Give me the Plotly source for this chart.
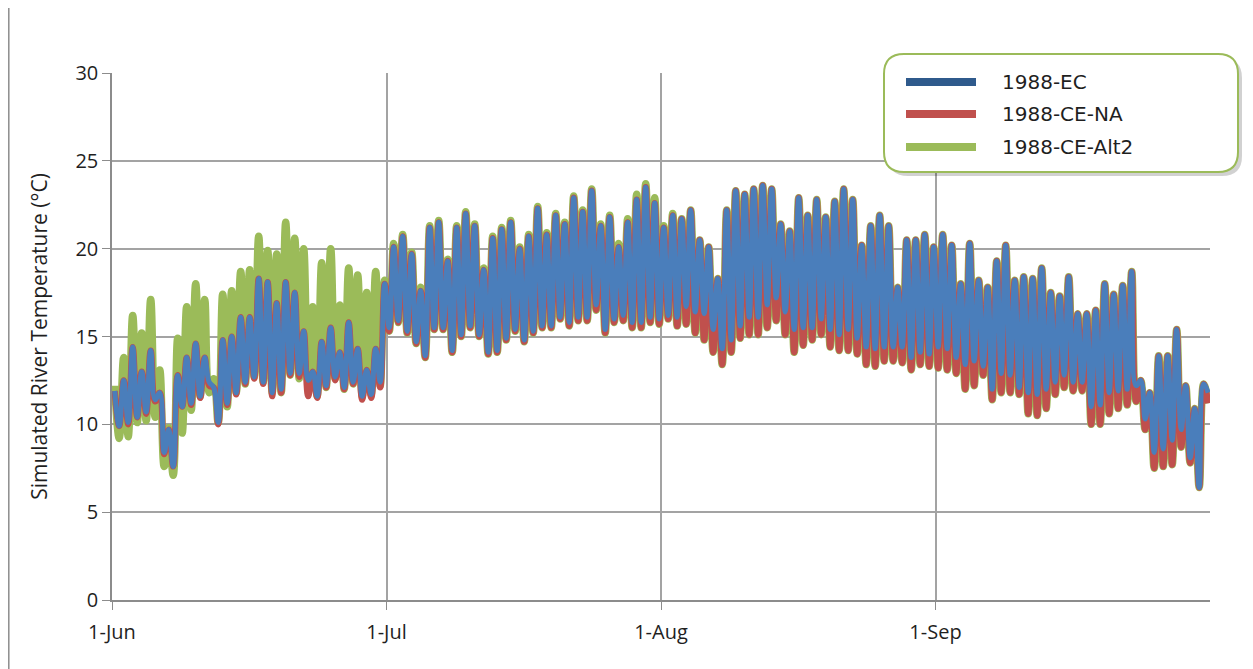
import plotly.graph_objects as go

# daily highs / lows, day 0 = 1-Jun ... day 121 = 30-Sep
ec_max = [
    11.9, 12.5, 14.4, 13.0, 14.2, 11.8, 9.7, 12.8, 13.8, 14.6,
    13.8, 12.1, 14.8, 15.0, 16.1, 16.1, 18.3, 18.1, 16.9, 18.1,
    17.5, 15.3, 13.0, 14.7, 15.5, 14.1, 15.8, 14.3, 13.1, 14.3,
    18.0, 20.1, 20.7, 19.7, 17.6, 21.2, 21.5, 19.3, 21.2, 22.0,
    21.3, 18.8, 20.6, 21.1, 21.5, 20.0, 20.7, 22.3, 20.8, 21.9,
    21.4, 22.9, 22.1, 23.3, 21.3, 21.8, 20.1, 21.5, 22.8, 23.5,
    22.6, 21.2, 21.9, 21.7, 22.2, 20.5, 20.1, 18.3, 22.2, 23.3,
    23.1, 23.4, 23.6, 23.4, 21.4, 21.0, 22.9, 21.9, 22.8, 21.8,
    22.7, 23.4, 22.8, 20.2, 21.3, 21.9, 21.3, 17.8, 20.5, 20.5,
    20.8, 20.1, 20.8, 20.2, 18.0, 20.3, 18.2, 17.8, 19.3, 20.2,
    18.2, 18.4, 18.3, 18.9, 17.5, 17.3, 18.4, 16.3, 16.3, 16.5,
    18.0, 17.4, 17.9, 18.7, 12.5, 11.8, 13.9, 13.9, 15.4, 12.2,
    10.9, 12.3,
]
ec_min = [
    9.9, 10.1, 10.4, 10.7, 11.4, 8.4, 7.6, 11.0, 11.2, 11.6,
    12.4, 10.1, 11.2, 11.8, 12.4, 12.7, 12.4, 11.8, 12.0, 12.9,
    12.9, 12.5, 11.6, 12.2, 12.7, 12.1, 12.4, 11.6, 11.7, 12.4,
    15.5, 15.9, 15.3, 14.7, 13.9, 15.5, 15.5, 14.2, 15.1, 15.6,
    15.1, 14.1, 14.2, 14.9, 15.4, 14.8, 15.3, 15.6, 15.6, 16.1,
    15.8, 16.1, 16.1, 16.8, 15.4, 16.0, 16.2, 15.8, 15.8, 16.1,
    16.0, 16.2, 16.1, 16.7, 16.4, 16.3, 15.4, 14.3, 14.8, 15.6,
    16.1, 16.1, 16.8, 17.2, 16.4, 15.4, 15.5, 15.5, 16.0, 15.4,
    15.1, 15.4, 14.9, 14.4, 14.3, 14.4, 14.4, 14.4, 13.8, 14.1,
    14.0, 14.4, 14.3, 13.8, 13.4, 13.6, 13.3, 12.0, 12.9, 12.8,
    12.1, 11.8, 11.7, 12.0, 12.4, 12.8, 12.4, 12.4, 11.0, 11.1,
    11.8, 11.9, 12.0, 12.2, 10.3, 8.4, 8.6, 9.1, 9.7, 8.1,
    6.4, 11.8,
]
na_max = ec_max  # peaks of CE-NA sit under the EC peaks on the chart
na_min = [
    9.9, 10.0, 10.4, 10.6, 11.3, 8.3, 7.6, 11.0, 11.1, 11.5,
    12.2, 10.0, 11.1, 11.7, 12.3, 12.6, 12.3, 11.6, 11.8, 12.8,
    12.7, 11.6, 11.5, 12.1, 12.5, 12.0, 12.3, 11.4, 11.5, 12.1,
    15.3, 15.8, 15.2, 14.6, 13.8, 15.4, 15.4, 14.1, 15.0, 15.5,
    15.0, 14.0, 14.1, 14.8, 15.3, 14.7, 15.2, 15.5, 15.5, 16.0,
    15.6, 15.9, 15.9, 16.5, 15.2, 15.8, 15.9, 15.5, 15.5, 15.8,
    15.7, 16.0, 15.6, 15.7, 15.2, 14.8, 14.1, 13.4, 14.1, 14.9,
    15.1, 15.1, 15.5, 15.9, 15.1, 14.1, 14.5, 14.8, 15.1, 14.4,
    14.2, 14.2, 14.0, 13.4, 13.3, 13.6, 13.6, 13.5, 13.1, 13.4,
    13.3, 13.2, 13.1, 12.9, 12.0, 12.2, 12.8, 11.4, 11.8, 11.8,
    11.7, 10.6, 10.5, 10.9, 11.7, 12.1, 11.9, 11.9, 10.0, 10.0,
    10.6, 10.9, 11.1, 11.3, 9.7, 7.5, 7.6, 7.7, 8.7, 7.8,
    6.4, 11.2,
]
alt2_max = [
    12.2, 13.8, 16.2, 15.2, 17.1, 13.1, 9.8, 14.9, 16.7, 18.0,
    17.1, 12.6, 17.4, 17.6, 18.7, 18.8, 20.7, 19.9, 19.7, 21.5,
    20.6, 20.0, 16.7, 19.2, 20.0, 16.8, 18.9, 18.5, 17.5, 18.7,
    18.2, 20.3, 20.8, 19.8, 17.8, 21.3, 21.6, 19.4, 21.3, 22.1,
    21.4, 18.9, 20.7, 21.2, 21.6, 20.1, 20.8, 22.4, 20.9, 22.0,
    21.5, 23.0, 22.2, 23.4, 21.4, 21.9, 20.3, 21.7, 23.1, 23.7,
    22.9, 21.3, 22.0, 21.7, 22.2, 20.5, 20.1, 18.3, 22.2, 23.3,
    23.1, 23.4, 23.6, 23.4, 21.4, 21.0, 22.9, 21.9, 22.8, 21.8,
    22.7, 23.4, 22.8, 20.2, 21.3, 21.9, 21.3, 17.8, 20.5, 20.5,
    20.8, 20.1, 20.8, 20.2, 18.0, 20.3, 18.2, 17.8, 19.3, 20.2,
    18.2, 18.4, 18.3, 18.9, 17.5, 17.3, 18.4, 16.3, 16.3, 16.5,
    18.0, 17.4, 17.9, 18.7, 12.5, 11.8, 13.9, 13.9, 15.4, 12.2,
    10.9, 12.3,
]
alt2_min = [
    9.2, 9.3, 10.1, 10.2, 10.4, 7.6, 7.1, 9.5, 10.8, 11.6,
    11.8, 10.1, 11.0, 11.8, 12.3, 12.7, 12.4, 11.8, 11.8, 12.8,
    12.6, 12.3, 11.6, 12.1, 12.6, 12.0, 12.3, 11.6, 11.7, 12.2,
    15.3, 15.8, 15.2, 14.6, 13.8, 15.4, 15.4, 14.1, 15.0, 15.5,
    15.0, 14.0, 14.1, 14.8, 15.3, 14.7, 15.2, 15.5, 15.5, 16.0,
    15.6, 15.9, 15.9, 16.5, 15.2, 15.8, 15.9, 15.5, 15.5, 15.8,
    15.7, 16.0, 15.6, 15.7, 15.2, 14.8, 14.1, 13.4, 14.1, 14.9,
    15.1, 15.1, 15.5, 15.9, 15.1, 14.1, 14.5, 14.8, 15.1, 14.4,
    14.2, 14.2, 14.0, 13.4, 13.3, 13.6, 13.6, 13.5, 13.1, 13.4,
    13.3, 13.2, 13.1, 12.9, 12.0, 12.2, 12.8, 11.4, 11.8, 11.8,
    11.7, 10.6, 10.5, 10.9, 11.7, 12.1, 11.9, 11.9, 10.0, 10.0,
    10.6, 10.9, 11.1, 11.3, 9.7, 7.5, 7.6, 7.7, 8.7, 7.8,
    6.4, 11.2,
]
tick_days = [0, 30.5, 61, 91.5]
tick_labels = ["1-Jun", "1-Jul", "1-Aug", "1-Sep"]

FONT = "Open Sans"
GRID = "#a3a3a3"
OFF = 8  # page body margin, the figure is drawn 8px in from the window edge
W, H = 1253 - OFF, 669 - OFF
L, R, T, B = 112, 1210, 73, 600  # plot area in window px


def px(x, y):
    return (x - L) / (R - L), (B - y) / (B - T)


def diurnal(hi, lo):
    xs, ys = [], []
    for d in range(len(hi)):
        xs += [d + 0.3, d + 0.8]
        ys += [hi[d], lo[d]]
    return xs, ys


series = [
    ("1988-CE-Alt2", alt2_max, alt2_min, "#9bbb59", 7.5),
    ("1988-CE-NA", na_max, na_min, "#c0504d", 6.2),
    ("1988-EC", ec_max, ec_min, "#4a7ebb", 5),
]

fig = go.Figure()
for name, hi, lo, col, w in series:
    xs, ys = diurnal(hi, lo)
    fig.add_trace(go.Scatter(
        x=xs, y=ys, mode="lines", name=name, showlegend=False,
        line=dict(color=col, width=w, shape="spline", smoothing=1.2),
    ))


def rounded(x0, y0, x1, y1, r):
    # rounded rectangle path in paper coords, corners given in window px
    a = px(x0 + r, y0)
    pts = [f"M{a[0]},{a[1]}"]
    for (lx, ly), (cx, cy), (ex, ey) in [
        ((x1 - r, y0), (x1, y0), (x1, y0 + r)),
        ((x1, y1 - r), (x1, y1), (x1 - r, y1)),
        ((x0 + r, y1), (x0, y1), (x0, y1 - r)),
        ((x0, y0 + r), (x0, y0), (x0 + r, y0)),
    ]:
        p = px(lx, ly); c = px(cx, cy); e = px(ex, ey)
        pts.append(f"L{p[0]},{p[1]} Q{c[0]},{c[1]} {e[0]},{e[1]}")
    return " ".join(pts) + " Z"


shapes = [
    # legend shadow + box
    dict(type="path", xref="paper", yref="paper", layer="above",
         path=rounded(888, 58, 1242, 176, 20),
         fillcolor="rgba(0,0,0,0.18)", line=dict(width=0)),
    dict(type="path", xref="paper", yref="paper", layer="above",
         path=rounded(884, 54, 1238, 172, 20),
         fillcolor="white", line=dict(color="#9bbb59", width=2)),
    # chart area border (left edge)
    dict(type="line", xref="paper", yref="paper",
         x0=px(8.8, 0)[0], x1=px(8.8, 0)[0], y0=px(0, 0)[1], y1=px(0, 700)[1],
         line=dict(color="#8c8c8c", width=1.5)),
]
annotations = []
rows = [("1988-EC", "#2f5a8c", 82), ("1988-CE-NA", "#c0504d", 114),
        ("1988-CE-Alt2", "#9bbb59", 147)]
for name, col, yy in rows:
    a = px(906, yy); b = px(976, yy)
    shapes.append(dict(type="line", xref="paper", yref="paper", layer="above",
                       x0=a[0], x1=b[0], y0=a[1], y1=b[1],
                       line=dict(color=col, width=8)))
    t = px(1000, yy)
    annotations.append(dict(xref="paper", yref="paper", x=t[0], y=t[1],
                            text=name, showarrow=False, xanchor="left",
                            yanchor="middle",
                            font=dict(family="DejaVu Sans", size=20, color="#1f1f1f")))

fig.update_layout(
    width=W, height=H,
    margin=dict(l=L - OFF, r=W - (R - OFF), t=T - OFF, b=H - (B - OFF)),
    paper_bgcolor="white", plot_bgcolor="white",
    font=dict(family=FONT, size=20, color="#1f1f1f"),
    showlegend=False,
    shapes=shapes, annotations=annotations,
    xaxis=dict(
        range=[0, 122], tickvals=tick_days, ticktext=tick_labels,
        showgrid=True, gridcolor=GRID, gridwidth=1.5,
        showline=True, linecolor="#8c8c8c", linewidth=1.5,
        ticks="outside", ticklen=8, tickcolor="#8c8c8c",
        ticklabelstandoff=5, zeroline=False,
    ),
    yaxis=dict(
        range=[0, 30], dtick=5, tick0=0,
        showgrid=True, gridcolor=GRID, gridwidth=1.5,
        showline=True, linecolor="#8c8c8c", linewidth=1.5,
        ticks="outside", ticklen=8, tickcolor="#8c8c8c",
        zeroline=False,
        title=dict(text="Simulated River Temperature (°C)",
                   font=dict(size=21), standoff=22),
    ),
)

fig.write_html("out.html")
